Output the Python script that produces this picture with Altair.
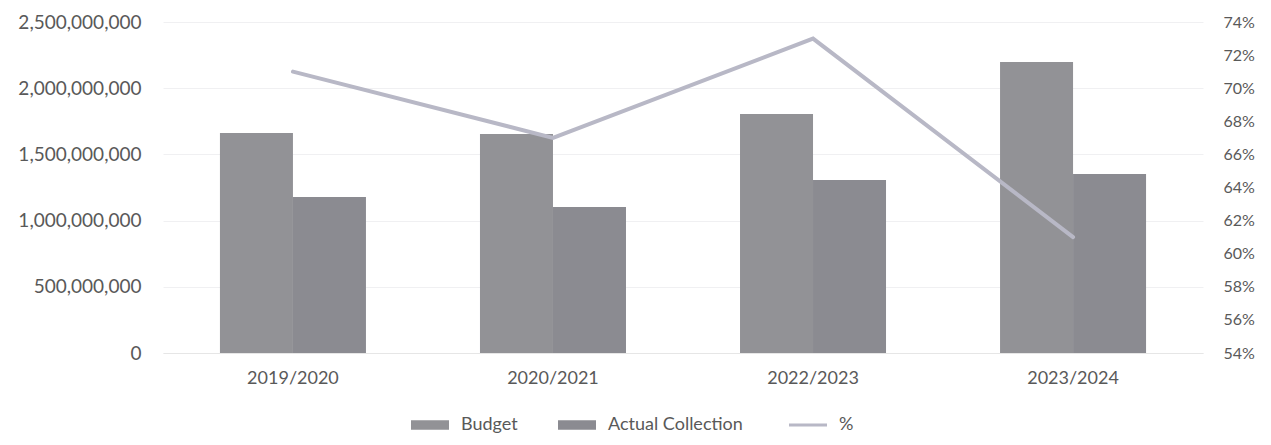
import altair as alt
import pandas as pd

years = ["2019/2020", "2020/2021", "2022/2023", "2023/2024"]
budget = [1662000000, 1654000000, 1805000000, 2198000000]
actual = [1178000000, 1103000000, 1307000000, 1352000000]
pct = [0.71, 0.67, 0.73, 0.61]
series = ["Budget", "Actual Collection"]
legend_items = ["Budget", "Actual Collection", "%"]
colors = ["#929296", "#8b8b91", "#b8b8c6"]
left_ticks = [0, 500000000, 1000000000, 1500000000, 2000000000, 2500000000]
right_ticks = [0.54, 0.56, 0.58, 0.60, 0.62, 0.64, 0.66, 0.68, 0.70, 0.72, 0.74]

rows = []
for y, b, a in zip(years, budget, actual):
    rows.append({"year": y, "series": "Budget", "value": b})
    rows.append({"year": y, "series": "Actual Collection", "value": a})
bars_df = pd.DataFrame(rows)
line_df = pd.DataFrame({"year": years, "pct": pct, "series": ["%"] * len(years)})

FONT = "Lato"
TXT = "#595959"

x_enc = alt.X(
    "year:N", sort=years, title=None,
    scale=alt.Scale(paddingInner=0.4385, paddingOuter=0.219),
    axis=alt.Axis(labelAngle=0, ticks=False, domain=True, domainColor="#e6e6e6",
                  labelPadding=16, grid=False, labelFontSize=18),
)

color_scale = alt.Scale(domain=legend_items, range=colors)

legend = alt.Legend(
    orient="none", legendX=258, legendY=394, direction="horizontal", title=None,
    symbolSize=361,
    symbolType={"expr": "datum.value === '%' ? 'M-2,0H2' : 'M-2,-0.5H2V0.5H-2Z'"},
    symbolStrokeWidth={"expr": "datum.value === '%' ? 3 : 0"},
    labelFontSize=18, labelColor=TXT, labelFont=FONT, labelOffset=22,
    columnPadding=40, symbolOpacity=1,
)

bars = alt.Chart(bars_df).mark_bar(opacity=1).encode(
    x=x_enc,
    xOffset=alt.XOffset("series:N", sort=series, scale=alt.Scale(paddingInner=0, paddingOuter=0)),
    y=alt.Y("value:Q", title=None,
            scale=alt.Scale(domain=[0, 2500000000], nice=False),
            axis=alt.Axis(values=left_ticks, format=",.0f", ticks=False, domain=False,
                          grid=True, gridColor="#f0f0f2", labelPadding=22, orient="left",
                          labelFontSize=19)),
    color=alt.Color("series:N", sort=legend_items, scale=color_scale, legend=legend),
)

line = alt.Chart(line_df).mark_line(strokeWidth=4, strokeCap="round").encode(
    x=x_enc,
    y=alt.Y("pct:Q", title=None,
            scale=alt.Scale(domain=[0.54, 0.74], nice=False, zero=False),
            axis=alt.Axis(values=right_ticks, format=".0%", ticks=False, domain=False,
                          grid=False, labelPadding=20, orient="right", labelFontSize=16)),
    color=alt.Color("series:N", sort=legend_items, scale=color_scale, legend=legend),
)

chart = alt.layer(bars, line).resolve_scale(y="independent").properties(
    width=1040, height=331,
    autosize=alt.AutoSizeParams(type="none"),
    padding={"left": 155, "top": 14, "right": 60, "bottom": 84},
).configure_view(stroke=None).configure_axis(
    labelFont=FONT, labelColor=TXT
).configure_legend(labelFont=FONT)

chart.save("out.html", embed_options={"renderer": "svg", "actions": False})
